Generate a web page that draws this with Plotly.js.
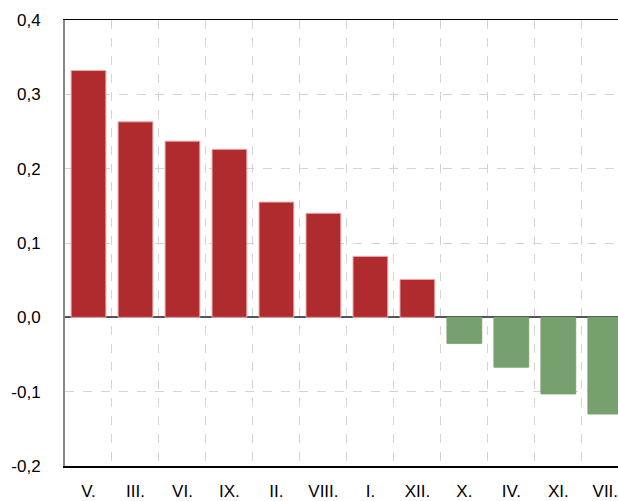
<!DOCTYPE html>
<html>
<head>
<meta charset="utf-8">
<script src="https://cdn.plot.ly/plotly-3.0.1.min.js"></script>
<style>html,body{margin:0;padding:0;overflow:hidden;background:#fff;}</style>
</head>
<body>
<div id="chart" style="width:618px;height:501px;"></div>
<script>
const categories = ["V.", "III.", "VI.", "IX.", "II.", "VIII.", "I.", "XII.", "X.", "IV.", "XI.", "VII."];
const values = [0.332, 0.263, 0.237, 0.226, 0.155, 0.140, 0.082, 0.051, -0.035, -0.067, -0.103, -0.130];
const yTicks = [-0.2, -0.1, 0.0, 0.1, 0.2, 0.3, 0.4];
const yTickText = ["-0,2", "-0,1", "0,0", "0,1", "0,2", "0,3", "0,4"];

const colors = values.map(v => v >= 0 ? '#AF2B2D' : '#76A16E');
const lineColors = values.map(v => v >= 0 ? '#E8A8A8' : '#76A16E');

Plotly.newPlot('chart', [{
  type: 'bar',
  x: categories,
  y: values,
  marker: {color: colors, line: {color: lineColors, width: 1}},
  width: 0.74,
  hoverinfo: 'skip'
}], {
  width: 618, height: 501,
  margin: {l: 65, r: 0, t: 20, b: 35},
  paper_bgcolor: '#fff', plot_bgcolor: '#fff',
  showlegend: false,
  font: {family: 'Liberation Sans, Arial, sans-serif', size: 17, color: '#000'},
  xaxis: {
    type: 'category',
    range: [-0.5, 11.27],
    tickson: 'boundaries',
    showgrid: true, gridcolor: '#d4d4d4', griddash: 'dash', gridwidth: 1,
    showline: true, linecolor: '#000', linewidth: 1.5, mirror: true,
    ticks: '', ticklabelstandoff: 9, tickfont: {size: 17}
  },
  yaxis: {
    range: [-0.2, 0.4],
    tickvals: yTicks,
    ticktext: yTickText,
    showgrid: true, gridcolor: '#d4d4d4', griddash: 'dash', gridwidth: 1,
    zeroline: true, zerolinecolor: '#555', zerolinewidth: 2,
    showline: true, linecolor: '#888', linewidth: 2,
    ticks: '', ticklabelstandoff: 19, tickfont: {size: 17}
  }
}, {displayModeBar: false, staticPlot: true});
</script>
</body>
</html>
